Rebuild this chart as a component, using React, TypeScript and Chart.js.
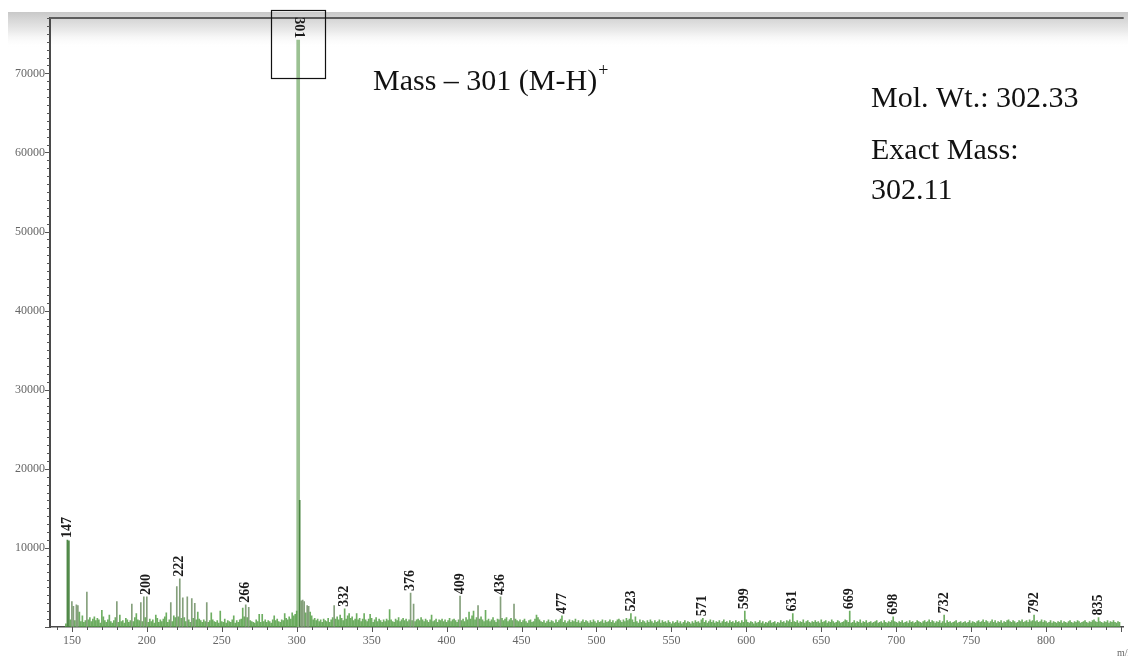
import React, { useEffect, useRef } from 'react';
import { Chart, registerables } from 'chart.js';

Chart.register(...registerables);

// ---------- DATA ----------
// Low-level "grass" intensities, one value per integer m/z, chunk start m/z in NOISE_STARTS
const NOISE_STARTS = [146, 196, 246, 296, 346, 396, 446, 496, 546, 596, 646, 696, 746, 796];
const noiseA = [400, 600, 700, 900, 1100, 1300, 800, 1000, 1200, 900, 700, 1100, 600, 800, 500, 900, 1200, 700, 1000, 600, 800, 1100, 900, 500, 700, 1300, 800, 600, 900, 1000, 700, 500, 800, 1200, 900, 600, 1000, 700, 800, 500, 1100, 900, 600, 800, 1000, 700, 1200, 600, 900, 800];
const noiseB = [1000, 700, 900, 1200, 800, 600, 1000, 700, 900, 500, 800, 1100, 600, 900, 700, 1000, 1300, 800, 600, 900, 1100, 700, 1400, 1200, 1000, 1300, 900, 1100, 800, 1200, 700, 1000, 900, 600, 800, 1100, 700, 900, 500, 1000, 800, 600, 900, 700, 1100, 600, 800, 500, 900, 700];
const noiseC = [600, 800, 500, 900, 700, 600, 1000, 500, 800, 700, 600, 900, 700, 500, 800, 600, 900, 1000, 1200, 1300, 1100, 1200, 900, 800, 700, 600, 500, 900, 700, 800, 600, 500, 700, 900, 600, 800, 700, 500, 900, 600, 800, 1000, 700, 600, 900, 800, 1000, 1100, 900, 1300];
const noiseD = [1000, 1200, 1400, 1600, 2000, 1800, 3300, 2400, 3400, 2200, 1800, 1500, 2600, 1200, 1400, 900, 1100, 800, 1000, 700, 900, 600, 1000, 800, 700, 1100, 600, 900, 1200, 800, 1000, 1300, 900, 1500, 1100, 800, 1200, 1000, 1400, 900, 1100, 1300, 800, 1000, 1200, 900, 1100, 700, 1000, 800];
const noiseE = [900, 700, 1000, 800, 1100, 600, 900, 1200, 700, 1000, 800, 600, 900, 700, 1000, 800, 1100, 900, 700, 600, 1000, 800, 1200, 700, 900, 1100, 800, 1000, 700, 900, 600, 800, 1100, 700, 900, 1000, 800, 1200, 900, 700, 1000, 800, 600, 900, 1100, 700, 800, 1000, 600, 900];
const noiseF = [800, 1000, 700, 900, 600, 800, 1100, 700, 900, 1000, 800, 600, 900, 1100, 800, 1000, 700, 1200, 900, 1300, 1000, 1400, 1100, 900, 1200, 800, 1000, 1300, 900, 700, 1100, 800, 1000, 700, 900, 1200, 800, 600, 1000, 900, 700, 1100, 800, 1000, 1200, 700, 900, 1100, 800, 600];
const noiseG = [1000, 800, 700, 900, 600, 800, 1000, 700, 500, 800, 900, 600, 700, 1000, 800, 1200, 900, 700, 600, 800, 500, 700, 900, 600, 800, 700, 500, 900, 600, 800, 1000, 700, 600, 800, 500, 700, 900, 600, 800, 700, 1000, 600, 800, 500, 700, 900, 600, 800, 700, 500];
const noiseH = [800, 600, 900, 700, 500, 800, 600, 700, 900, 500, 800, 600, 700, 900, 600, 800, 500, 700, 900, 1000, 800, 600, 900, 700, 1100, 800, 1000, 700, 900, 600, 800, 700, 500, 900, 600, 800, 700, 500, 800, 600, 900, 700, 500, 800, 600, 700, 900, 500, 800, 600];
const noiseI = [700, 500, 800, 600, 400, 700, 500, 600, 800, 500, 700, 400, 600, 800, 500, 700, 600, 400, 700, 500, 800, 600, 700, 500, 900, 700, 600, 800, 500, 700, 900, 600, 800, 500, 700, 600, 800, 500, 700, 900, 600, 700, 500, 800, 600, 700, 500, 800, 600, 700];
const noiseJ = [500, 800, 600, 700, 900, 600, 500, 700, 600, 400, 700, 500, 600, 800, 500, 700, 400, 600, 500, 700, 800, 500, 600, 700, 400, 600, 500, 800, 600, 700, 500, 800, 700, 900, 600, 500, 700, 600, 800, 500, 700, 600, 900, 500, 700, 800, 600, 500, 700, 600];
const noiseK = [800, 600, 700, 500, 900, 600, 700, 800, 500, 700, 600, 900, 700, 500, 600, 800, 700, 500, 600, 700, 900, 800, 600, 700, 500, 600, 800, 500, 700, 600, 900, 500, 700, 600, 800, 500, 600, 700, 500, 600, 700, 800, 500, 600, 700, 500, 800, 600, 500, 700];
const noiseL = [600, 800, 500, 700, 600, 500, 700, 600, 800, 500, 600, 700, 500, 800, 600, 700, 500, 600, 800, 700, 600, 500, 700, 800, 600, 700, 900, 600, 800, 700, 500, 700, 600, 800, 500, 700, 600, 500, 800, 600, 700, 500, 600, 700, 800, 500, 600, 700, 500, 600];
const noiseM = [700, 500, 600, 800, 500, 700, 600, 500, 700, 800, 600, 700, 900, 600, 800, 700, 500, 700, 900, 600, 800, 500, 700, 600, 800, 500, 700, 600, 800, 900, 700, 600, 800, 700, 500, 600, 800, 700, 900, 600, 700, 800, 600, 900, 700, 800, 1000, 700, 800, 600];
const noiseN = [700, 900, 600, 800, 700, 500, 600, 800, 500, 700, 600, 500, 700, 600, 800, 500, 700, 600, 500, 700, 800, 600, 500, 700, 600, 800, 700, 500, 600, 700, 800, 600, 500, 700, 600, 800, 900, 700, 600, 800, 700, 600, 500, 700, 600, 800, 500, 700, 600, 800, 600, 500, 700, 600];
const NOISE = [noiseA, noiseB, noiseC, noiseD, noiseE, noiseF, noiseG, noiseH, noiseI, noiseJ, noiseK, noiseL, noiseM, noiseN];

// Distinct peaks (m/z, intensity)
const peakMz = [147, 148, 150, 151, 153, 154, 155, 157, 160, 165, 170, 175, 180, 182, 190, 193, 196, 198, 200, 206, 213, 216, 220, 222, 224, 227, 230, 232, 234, 240, 243, 249, 258, 264, 266, 268, 275, 277, 285, 292, 297, 302, 303, 304, 305, 307, 309, 325, 332, 335, 340, 345, 349, 362, 376, 378, 390, 409, 415, 418, 421, 426, 436, 445, 460, 477, 523, 526, 571, 599, 631, 669, 698, 732, 792, 835];
const peakIntensity = [11000, 10900, 3200, 2600, 2800, 2700, 1900, 1400, 4400, 1300, 2100, 1500, 3200, 1500, 2900, 1700, 3100, 3800, 3800, 1500, 1800, 3100, 5100, 6100, 3700, 3800, 3600, 3000, 1900, 3100, 1800, 2000, 1400, 2400, 2800, 2500, 1600, 1600, 1400, 1700, 1800, 16000, 3300, 3400, 3200, 2700, 1900, 2700, 2300, 1700, 1700, 1700, 1600, 2200, 4300, 2900, 1500, 3900, 1900, 2000, 2700, 2100, 3800, 2900, 1500, 1400, 1700, 1300, 1100, 2000, 1700, 2000, 1300, 1500, 1500, 1200];

// Base peak
const baseMz = 301;
const baseIntensity = 74200;

// Annotated peaks
const labeledMz = [147, 200, 222, 266, 301, 332, 376, 409, 436, 477, 523, 571, 599, 631, 669, 698, 732, 792, 835];

// Axis labels
const xTickLabels = [150, 200, 250, 300, 350, 400, 450, 500, 550, 600, 650, 700, 750, 800];
const yTickLabels = [10000, 20000, 30000, 40000, 50000, 60000, 70000];

const annotationMass = 'Mass \u2013 301 (M-H)';
const annotationMolWt = 'Mol. Wt.: 302.33';
const annotationExact1 = 'Exact Mass:';
const annotationExact2 = '302.11';

const SERIF = "'Liberation Serif', 'Times New Roman', serif";

function buildSpectrum() {
  const map = new Map<number, number>();
  NOISE.forEach((chunk, ci) => {
    chunk.forEach((v, i) => map.set(NOISE_STARTS[ci] + i, v));
  });
  peakMz.forEach((mz, i) => map.set(mz, peakIntensity[i]));
  map.delete(baseMz);
  const pts = Array.from(map.entries())
    .sort((a, b) => a[0] - b[0])
    .map(([x, y]) => ({ x, y }));
  return { map, pts };
}

export default function App() {
  const ref = useRef<HTMLCanvasElement | null>(null);

  useEffect(() => {
    const canvas = ref.current;
    if (!canvas) return;
    const { map, pts } = buildSpectrum();
    map.set(baseMz, baseIntensity);

    const decor = {
      id: 'decor',
      beforeDraw(chart: any) {
        const ctx = chart.ctx as CanvasRenderingContext2D;
        ctx.save();
        const g = ctx.createLinearGradient(0, 12, 0, 48);
        g.addColorStop(0, '#c8c8c8');
        g.addColorStop(0.2, '#d6d6d6');
        g.addColorStop(0.55, '#ececec');
        g.addColorStop(1, 'rgba(255,255,255,0)');
        ctx.fillStyle = g;
        ctx.fillRect(8, 12, 1120, 36);
        ctx.restore();
      },
      afterDraw(chart: any) {
        const ctx = chart.ctx as CanvasRenderingContext2D;
        const area = chart.chartArea;
        const xs = chart.scales.x;
        const ys = chart.scales.y;
        ctx.save();
        // top frame line
        ctx.strokeStyle = '#5c5c5c';
        ctx.lineWidth = 2;
        ctx.beginPath();
        ctx.moveTo(area.left, area.top);
        ctx.lineTo(area.right, area.top);
        ctx.stroke();

        // y tick marks
        ctx.strokeStyle = '#555';
        ctx.lineWidth = 1;
        ys.ticks.forEach((t: any) => {
          if (t.value < ys.min || t.value > ys.max) return;
          const py = Math.round(ys.getPixelForValue(t.value)) + 0.5;
          const major = t.value % 10000 === 0;
          const len = major ? 5 : 3;
          ctx.beginPath();
          ctx.moveTo(area.left - len, py);
          ctx.lineTo(area.left, py);
          ctx.stroke();
        });
        // x tick marks
        xs.ticks.forEach((t: any) => {
          if (t.value < xs.min || t.value > xs.max) return;
          const px = Math.round(xs.getPixelForValue(t.value)) + 0.5;
          const major = t.value % 50 === 0;
          const len = major ? 5 : 3;
          ctx.beginPath();
          ctx.moveTo(px, area.bottom);
          ctx.lineTo(px, area.bottom + len);
          ctx.stroke();
        });

        // peak labels
        ctx.fillStyle = '#1a1a1a';
        ctx.font = `bold 14px ${SERIF}`;
        ctx.textBaseline = 'middle';
        labeledMz.forEach((mz) => {
          const v = map.get(mz) ?? 0;
          const px = xs.getPixelForValue(mz);
          const py = ys.getPixelForValue(v) - 2;
          ctx.save();
          ctx.translate(px, py);
          if (mz === baseMz) {
            ctx.rotate(Math.PI / 2);
            ctx.textAlign = 'right';
          } else {
            ctx.rotate(-Math.PI / 2);
            ctx.textAlign = 'left';
          }
          ctx.fillText(String(mz), 0, 0);
          ctx.restore();
        });

        // box around base peak label
        const bx = xs.getPixelForValue(baseMz);
        ctx.strokeStyle = '#111';
        ctx.lineWidth = 1.2;
        ctx.strokeRect(Math.round(bx - 27) + 0.5, 10.5, 54, 68);

        // annotations
        ctx.fillStyle = '#111';
        ctx.textAlign = 'left';
        ctx.textBaseline = 'alphabetic';
        ctx.font = `30px ${SERIF}`;
        ctx.fillText(annotationMass, 373, 90);
        const w = ctx.measureText(annotationMass).width;
        ctx.font = `18px ${SERIF}`;
        ctx.fillText('+', 373 + w + 1, 76);
        ctx.font = `30px ${SERIF}`;
        ctx.fillText(annotationMolWt, 871, 107);
        ctx.fillText(annotationExact1, 871, 159);
        ctx.fillText(annotationExact2, 871, 199);

        // axis unit (cut off at the edge)
        ctx.fillStyle = '#666';
        ctx.font = `10px ${SERIF}`;
        ctx.fillText('m/z', 1117, 656);
        ctx.restore();
      },
    };

    const chart = new Chart(canvas, {
      type: 'bar',
      data: {
        datasets: [
          {
            label: 'base',
            data: [{ x: baseMz, y: baseIntensity }],
            backgroundColor: 'rgba(150,190,140,0.95)',
            barThickness: 3,
            grouped: false,
            order: 2,
          } as any,
          {
            label: 'spectrum',
            data: pts,
            backgroundColor: (c: any) => {
              const v = c.raw ? c.raw.y : 0;
              if (v >= 10000) return 'rgba(70,130,60,0.95)';
              if (v >= 2500) return 'rgba(120,150,110,0.9)';
              return 'rgba(85,160,70,0.85)';
            },
            barThickness: 1,
            grouped: false,
            order: 1,
          } as any,
        ],
      },
      options: {
        animation: false,
        responsive: false,
        maintainAspectRatio: false,
        layout: { padding: { top: 18, left: 0, right: 0, bottom: 0 } },
        plugins: { legend: { display: false }, tooltip: { enabled: false } },
        scales: {
          x: {
            type: 'linear',
            min: 135.4,
            max: 851.8,
            offset: false,
            grid: { display: false, drawTicks: false },
            border: { display: true, color: '#4a4a4a', width: 1.5 },
            ticks: {
              stepSize: 10,
              includeBounds: false,
              autoSkip: false,
              maxRotation: 0,
              minRotation: 0,
              padding: 7,
              color: '#666',
              font: { family: SERIF, size: 12 },
              callback: (v: any) => (xTickLabels.includes(Number(v)) ? String(v) : ''),
            },
            afterFit: (s: any) => {
              s.height = 33;
            },
          },
          y: {
            type: 'linear',
            min: 0,
            max: 77000,
            grid: { display: false, drawTicks: false },
            border: { display: true, color: '#4a4a4a', width: 2 },
            ticks: {
              stepSize: 1000,
              includeBounds: false,
              autoSkip: false,
              padding: 5,
              color: '#666',
              font: { family: SERIF, size: 12 },
              callback: (v: any) => (yTickLabels.includes(Math.round(Number(v))) ? String(Math.round(Number(v))) : ''),
            },
            afterFit: (s: any) => {
              s.width = 50;
            },
          },
        },
      } as any,
      plugins: [decor],
    });

    return () => chart.destroy();
  }, []);

  return (
    <div style={{ position: 'fixed', left: 0, top: 0, width: 1128, height: 660, background: '#fff' }}>
      <canvas ref={ref} width={1128} height={660} style={{ display: 'block' }} />
    </div>
  );
}
